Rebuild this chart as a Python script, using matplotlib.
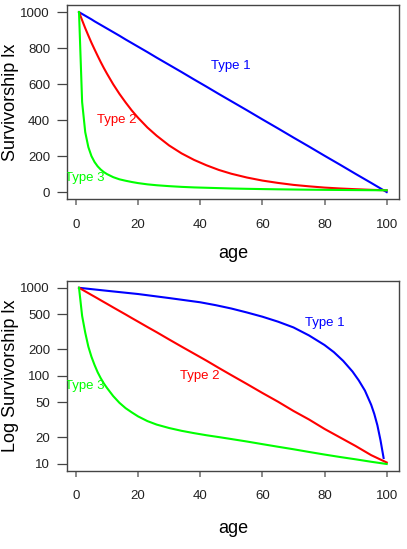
import numpy as np
import matplotlib
matplotlib.use("Agg")
import matplotlib.pyplot as plt
from matplotlib.ticker import FixedLocator, NullLocator

plt.rcParams['font.family'] = ['Liberation Sans', 'DejaVu Sans']

age = [1, 2, 3, 4, 5, 6, 7, 8, 9, 10, 12, 14, 16, 18, 20, 23, 26, 30, 34, 38,
       42, 46, 50, 55, 60, 65, 70, 75, 80, 85, 90, 95, 100]

# Top panel: survivorship lx
type1 = [1000, 990, 980, 970, 960, 949, 939, 929, 919, 909, 889, 869, 848, 828, 808, 778, 747, 707, 667, 626,
         586, 545, 505, 455, 404, 354, 303, 253, 202, 152, 101, 51, 0]
type2 = [1000, 955, 911, 870, 830, 793, 757, 722, 689, 658, 599, 546, 498, 453, 413, 359, 313, 259, 215, 179,
         149, 123, 102, 81, 64, 51, 40, 32, 25, 20, 16, 12.6, 10]
type3 = [1000, 500, 333, 250, 200, 167, 143, 125, 111, 100, 83, 71, 63, 56, 50, 43, 38, 33, 29, 26,
         24, 22, 20, 18.2, 16.7, 15.4, 14.3, 13.3, 12.5, 11.8, 11.1, 10.5, 10]

# Bottom panel: log survivorship
age_log1 = [1, 10, 20, 30, 40, 45, 50, 55, 60, 65, 70, 75, 80, 83, 86, 89, 91, 93, 95, 96, 97, 98, 99]
log_type1 = [1000, 925, 850, 765, 685, 635, 582, 525, 470, 413, 355, 288, 224, 186, 148, 112, 89, 68, 47, 37,
             27.5, 18.6, 11.7]
log_type2 = [1000, 955, 911, 870, 830, 793, 757, 722, 689, 658, 599, 546, 498, 453, 413, 359, 313, 259, 215, 179,
             149, 123, 102, 81, 64, 51, 40, 32, 25, 20, 16, 12.6, 10.4]
log_type3 = [1000, 480, 310, 215, 165, 133, 110, 94, 82, 73, 59, 49.5, 43, 38.5, 34.7, 30.7, 28, 25.6, 23.8, 22.4,
             21.2, 20.2, 19.2, 18, 16.8, 15.7, 14.7, 13.7, 12.8, 12, 11.3, 10.6, 10]

x_ticks = [0, 20, 40, 60, 80, 100]
y_ticks = [0, 200, 400, 600, 800, 1000]
log_ticks = [10, 20, 50, 100, 200, 500, 1000]

BLUE, RED, GREEN = '#0000FF', '#FF0000', '#00FF00'
BOX = '#444444'


def style_axes(ax):
    for s in ax.spines.values():
        s.set_color(BOX)
        s.set_linewidth(1.0)
    ax.tick_params(axis='y', length=7, width=0.9, color=BOX, pad=5,
                   labelsize=9.5, labelcolor='#222222')
    ax.tick_params(axis='x', length=4.5, width=1.2, color='#777777', pad=9.5,
                   labelsize=9.5, labelcolor='#222222')
    ax.set_xlim(-2.96, 103.96)
    ax.set_xticks(x_ticks)


fig = plt.figure(figsize=(4.07, 5.49), dpi=100)

# top
ax1 = fig.add_axes([0.1639, 0.637, 0.8165, 0.354])
ax1.plot(age, type1, color=BLUE, lw=1.5)
ax1.plot(age, type2, color=RED, lw=1.5)
ax1.plot(age, type3, color=GREEN, lw=1.5)
ax1.text(50, 700, 'Type 1', color=BLUE, fontsize=9.5, ha='center', va='center')
ax1.text(13, 400, 'Type 2', color=RED, fontsize=9.5, ha='center', va='center')
ax1.text(2.8, 80, 'Type 3', color=GREEN, fontsize=9.5, ha='center', va='center', clip_on=True)
ax1.set_ylim(-40, 1040)
ax1.set_yticks(y_ticks)
style_axes(ax1)
ax1.set_xlabel('age', fontsize=13, va='center')
ax1.xaxis.set_label_coords(0.5, -0.28)
ax1.set_ylabel('Survivorship lx', fontsize=13, va='center')
ax1.yaxis.set_label_coords(-0.17, 0.5)

# bottom, log scale
ax2 = fig.add_axes([0.1639, 0.142, 0.8165, 0.3466])
ax2.plot(age_log1, log_type1, color=BLUE, lw=1.5)
ax2.plot(age, log_type2, color=RED, lw=1.5)
ax2.plot(age, log_type3, color=GREEN, lw=1.5)
ax2.set_yscale('log')
ax2.set_ylim(10 ** 0.92, 10 ** 3.08)
ax2.yaxis.set_major_locator(FixedLocator(log_ticks))
ax2.yaxis.set_minor_locator(NullLocator())
ax2.set_yticklabels([str(t) for t in log_ticks])
ax2.text(80, 400, 'Type 1', color=BLUE, fontsize=9.5, ha='center', va='center')
ax2.text(40, 100, 'Type 2', color=RED, fontsize=9.5, ha='center', va='center')
ax2.text(2.8, 76, 'Type 3', color=GREEN, fontsize=9.5, ha='center', va='center', clip_on=True)
style_axes(ax2)
ax2.set_xlabel('age', fontsize=13, va='center')
ax2.xaxis.set_label_coords(0.5, -0.303)
ax2.set_ylabel('Log Survivorship lx', fontsize=13, va='center')
ax2.yaxis.set_label_coords(-0.17, 0.5)

fig.savefig('out.png', dpi=100, facecolor='white')
